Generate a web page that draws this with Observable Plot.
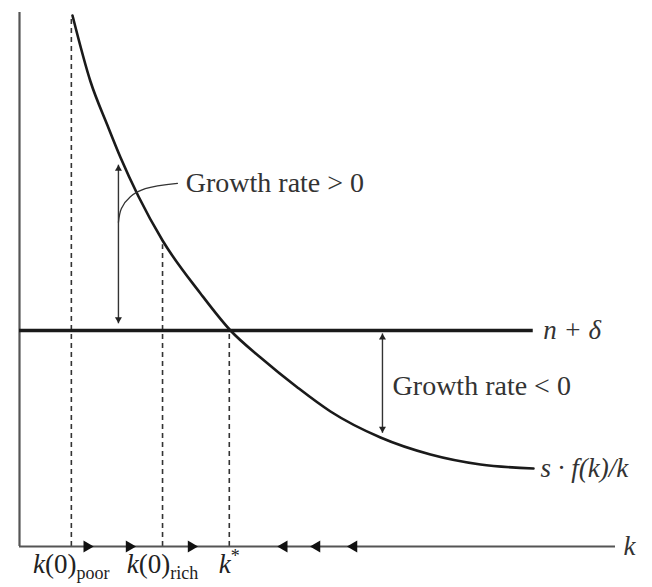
<!DOCTYPE html>
<html><head><meta charset="utf-8">
<script src="https://cdn.jsdelivr.net/npm/d3@7"></script>
<script src="https://cdn.jsdelivr.net/npm/@observablehq/plot@0.6"></script>
<style>body{margin:0;background:#fff;overflow:hidden}</style>
</head><body><div id="chart"></div>
<script>
// s·f(k)/k curve (x = k, y = growth-rate axis, both on a 0–100 scale)
const curveK = [8.89, 11.91, 14.77, 16.95, 19.97, 24.0, 30.37, 35.40, 40.44, 46.64, 52.18, 60.57, 68.96, 77.35, 86.24];
const curveY = [99.44, 87.08, 78.84, 72.85, 65.54, 57.30, 47.38, 40.45, 35.39, 29.78, 25.28, 20.41, 17.23, 15.36, 14.61];
// n + δ level
const lineLevel = 40.45;
const lineEndK = 86.2;
// k ticks
const tickK = [8.7, 24.0, 35.2];
const tickMain = ["k(0)", "k(0)", "k"];
const tickSub = ["poor", "rich", ""];
const tickSup = ["", "", "*"];
const guideTop = [99.4, 56.5, 40.45];
// direction arrows on the k axis
const rightArrowK = [12.4, 19.5, 29.9];
const leftArrowK = [43.3, 48.8, 55.0];
// growth-rate gap arrows
const gapK = [16.6, 60.9];
const gapTop = [71.5, 39.9];
const gapBottom = [41.8, 21.3];
// annotations
const annoText = ["Growth rate > 0", "Growth rate < 0"];
const annoK = [27.9, 62.6];
const annoY = [68.0, 30.1];
const leaderK = [16.6, 17.1, 18.6, 21.1, 26.5];
const leaderY = [60.7, 63.3, 65.5, 67.0, 68.0];
const curveLabel = "s · f(k)/k";
const lineLabel = "n + δ";
const axisLabel = "k";

const curve = curveK.map((k, i) => ({k, y: curveY[i]}));
const leader = leaderK.map((k, i) => ({k, y: leaderY[i]}));
const ticks = tickK.map((k, i) => ({k, top: guideTop[i], label: tickMain[i] + tickSub[i] + tickSup[i]}));
const gaps = gapK.map((k, i) => ({k, top: gapTop[i], bottom: gapBottom[i]}));
const annos = annoText.map((t, i) => ({t, k: annoK[i], y: annoY[i]}));

const FONT = "'Liberation Serif', 'Times New Roman', 'DejaVu Serif', serif";
const INK = "#1a1a1a";

const svg = Plot.plot({
  width: 652,
  height: 587,
  marginLeft: 19,
  marginRight: 37,
  marginTop: 12,
  marginBottom: 41,
  x: {domain: [0, 100], axis: null},
  y: {domain: [0, 100], axis: null},
  style: {background: "#fff", fontFamily: FONT},
  marks: [
    Plot.ruleX(ticks, {x: "k", y1: 0, y2: "top", stroke: "#333", strokeWidth: 1.6, strokeDasharray: "5,4"}),
    Plot.ruleX([0], {stroke: "#555", strokeWidth: 2.2}),
    Plot.ruleY([0], {stroke: "#555", strokeWidth: 2.2}),
    Plot.ruleY([lineLevel], {x1: 0, x2: lineEndK, stroke: INK, strokeWidth: 3.6}),
    Plot.line(curve, {x: "k", y: "y", curve: "monotone-x", stroke: INK, strokeWidth: 2.6}),
    Plot.link(gaps, {x1: "k", x2: "k", y1: "bottom", y2: "top", stroke: "#333", strokeWidth: 1.4}),
    Plot.dot(gaps, {x: "k", y: "top", symbol: "triangle", r: 2.6, rotate: 0, dy: 4, fill: "#222", stroke: null}),
    Plot.dot(gaps, {x: "k", y: "bottom", symbol: "triangle", r: 2.6, rotate: 180, dy: -4, fill: "#222", stroke: null}),
    Plot.line(leader, {x: "k", y: "y", curve: "catmull-rom", stroke: "#333", strokeWidth: 1.3}),
    Plot.text(annos, {x: "k", y: "y", text: "t", textAnchor: "start", fontSize: 28, fontFamily: FONT, fill: "#333"}),
    Plot.dot(rightArrowK, {x: d => d, y: 0, symbol: "triangle", r: 4.4, rotate: 90, dx: -6.5, fill: "#111", stroke: null}),
    Plot.dot(leftArrowK, {x: d => d, y: 0, symbol: "triangle", r: 4.4, rotate: -90, dx: 6.5, fill: "#111", stroke: null}),
    Plot.text([lineLabel], {x: lineEndK, y: lineLevel, text: d => d, textAnchor: "start", dx: 10, fontSize: 27, fontFamily: FONT, fontStyle: "italic", fill: "#333"}),
    Plot.text([curveLabel], {x: curveK[curveK.length - 1], y: curveY[curveY.length - 1], text: d => d, textAnchor: "start", dx: 7, fontSize: 27, fontFamily: FONT, fontStyle: "italic", fill: "#333"}),
    Plot.text([axisLabel], {x: 100, y: 0, text: d => d, textAnchor: "start", dx: 8, fontSize: 27, fontFamily: FONT, fontStyle: "italic", fill: "#333"}),
    Plot.text(ticks, {x: "k", y: 0, text: "label", textAnchor: "middle", dy: 18, fontSize: 27, fontFamily: FONT, fill: "#222"})
  ]
});

// rich formatting for tick labels (italic k, subscripts, superscript)
const NS = "http://www.w3.org/2000/svg";
svg.querySelectorAll("text").forEach(t => {
  const s = t.textContent;
  const i = tickK.findIndex((_, j) => tickMain[j] + tickSub[j] + tickSup[j] === s);
  if (i < 0) return;
  t.textContent = "";
  const add = (txt, attrs) => {
    const ts = document.createElementNS(NS, "tspan");
    for (const [a, v] of Object.entries(attrs)) ts.setAttribute(a, v);
    ts.textContent = txt;
    t.appendChild(ts);
  };
  const main = tickMain[i];
  add(main[0], {"font-style": "italic"});
  if (main.length > 1) add(main.slice(1), {});
  if (tickSub[i]) add(tickSub[i], {"font-size": 18, dy: 6});
  if (tickSup[i]) add(tickSup[i], {"font-size": 18, dy: -11});
});

document.getElementById("chart").appendChild(svg);
</script>
</body></html>
